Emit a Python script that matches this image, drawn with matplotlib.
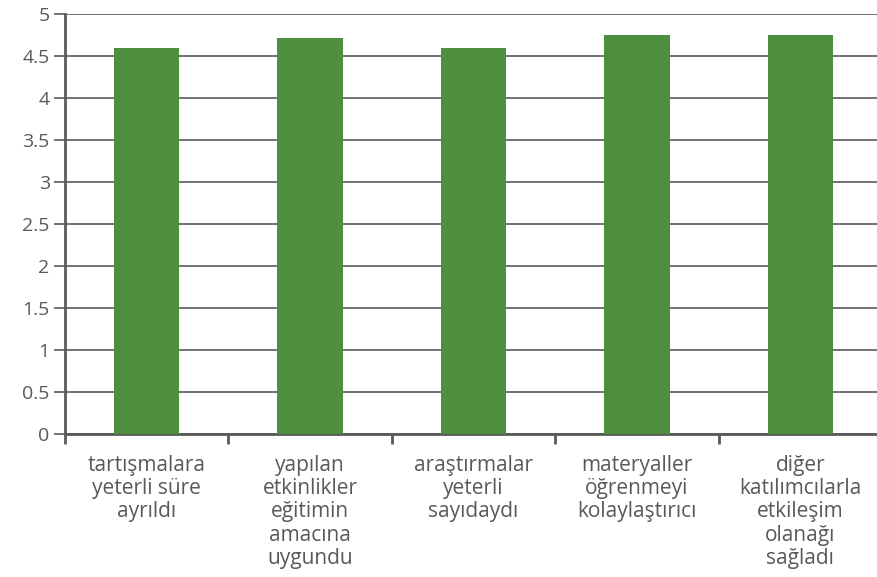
import matplotlib
matplotlib.use("Agg")
import matplotlib.pyplot as plt
import numpy as np

categories = ["tartışmalara\nyeterli süre\nayrıldı",
              "yapılan\netkinlikler\neğitimin\namacına\nuygundu",
              "araştırmalar\nyeterli\nsayıdaydı",
              "materyaller\nöğrenmeyi\nkolaylaştırıcı",
              "diğer\nkatılımcılarla\netkileşim\nolanağı\nsağladı"]
values = [4.6, 4.71, 4.6, 4.75, 4.75]
yticks = [0, 0.5, 1, 1.5, 2, 2.5, 3, 3.5, 4, 4.5, 5]
ytick_labels = ["0", "0.5", "1", "1.5", "2", "2.5", "3", "3.5", "4", "4.5", "5"]

plt.rcParams['font.family'] = ['Open Sans', 'DejaVu Sans']
W, H = 877, 577
fig = plt.figure(figsize=(W/100, H/100), dpi=100)
left, right, top, bottom = 65, 882, 14, 434
ax = fig.add_axes([left/W, 1 - bottom/H, (right-left)/W, (bottom-top)/H])

x = np.arange(len(categories))
ax.bar(x, values, width=0.4, color="#4e8e3f", zorder=3)
ax.set_xlim(-0.5, len(categories) - 0.5)
ax.set_ylim(0, 5)
ax.set_yticks(yticks)
ax.set_yticklabels(ytick_labels, fontsize=14, color="#595959")
ax.yaxis.grid(True, color="#5a5a5a", linewidth=1.2, zorder=0)
ax.tick_params(axis='y', length=8, width=1.2, color="#5a5a5a", pad=3)

ax.set_xticks(x)
ax.set_xticklabels(categories, fontsize=15, color="#595959", linespacing=1.14, va='top')
ax.tick_params(axis='x', length=0, pad=15)
ax.set_xticks(np.arange(len(categories) + 1) - 0.5, minor=True)
ax.tick_params(axis='x', which='minor', length=7, width=2, color="#5a5a5a")

for s in ['top', 'right']:
    ax.spines[s].set_visible(False)
for s in ['left', 'bottom']:
    ax.spines[s].set_color("#5a5a5a")
    ax.spines[s].set_linewidth(2)
ax.set_axisbelow(True)

fig.savefig("out.png", dpi=100)
